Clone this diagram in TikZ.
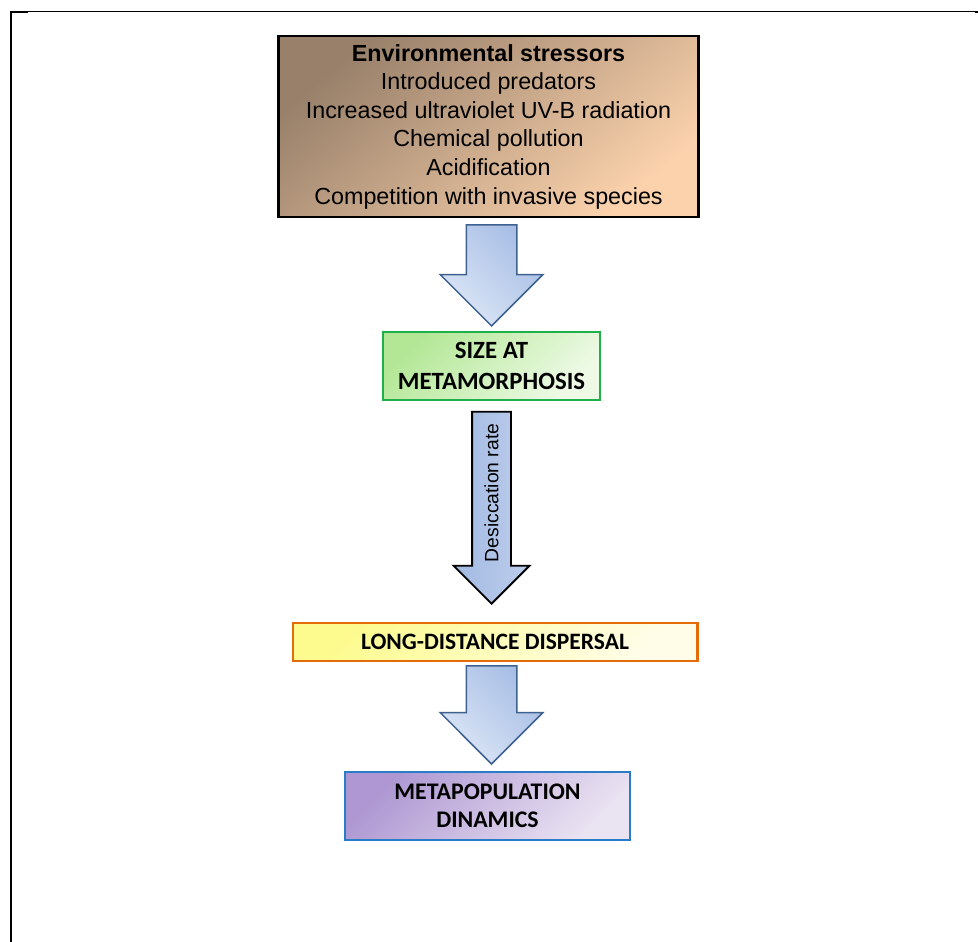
\documentclass[tikz,border=0pt]{standalone}
\usepackage{fontspec}
\setmainfont{Liberation Sans}
\newfontfamily\calfont{Carlito}
\usetikzlibrary{shapes.arrows}
\definecolor{envTL}{HTML}{98806A}
\definecolor{envBR}{HTML}{FBD2AC}
\definecolor{arrLine}{HTML}{3E618F}
\definecolor{arrDark}{HTML}{A6BDE5}
\definecolor{arrLight}{HTML}{DCE6F6}
\definecolor{drDark}{HTML}{A2B9E1}
\definecolor{drLight}{HTML}{BDCEED}
\definecolor{grnLine}{HTML}{20B04B}
\definecolor{grnTL}{HTML}{B3E796}
\definecolor{grnBR}{HTML}{EEFAE6}
\definecolor{orgLine}{HTML}{E36C09}
\definecolor{yelTL}{HTML}{FDFB8E}
\definecolor{yelBR}{HTML}{FFFDE8}
\definecolor{bluLine}{HTML}{2A7BC8}
\definecolor{purTL}{HTML}{AE97D2}
\definecolor{purBR}{HTML}{EAE3F2}
\begin{document}
\begin{tikzpicture}[x=1pt,y=-1pt,
  box/.style={draw, rectangle, inner sep=0pt, align=center},
  capsfont/.style={font=\calfont\bfseries\fontsize{23.5}{30}\selectfont},
  blockarrow/.style={single arrow, draw=arrLine, line width=1.5pt,
    inner sep=0pt, inner xsep=24.5pt, single arrow head extend=26pt,
    minimum width=101pt, shape border rotate=270,
    top color=arrDark, bottom color=arrLight, shading angle=-45}]
\useasboundingbox (0,0) rectangle (978,942);
% frame
\draw[line width=1.4pt] (10,11.7) -- (978,11.7);
\draw[line width=2pt] (11,10.9) -- (11,942);
\fill (10,11) rectangle (28,13.4);
\fill (975,11) rectangle (978,13.4);
% boxes
\node[box, line width=2.4pt, minimum width=420pt, minimum height=181pt,
  top color=envTL, bottom color=envBR, shading angle=40,
  font=\fontsize{23.3}{28.6}\selectfont] (env) at (488.5,126.5)
  {\textbf{Environmental stressors}\\Introduced predators\\Increased ultraviolet UV-B radiation\\Chemical pollution\\Acidification\\Competition with invasive species};
\node[box, draw=grnLine, line width=2pt, minimum width=217pt, minimum height=68pt,
  top color=grnTL, bottom color=grnBR, shading angle=45,
  font=\calfont\bfseries\fontsize{24.8}{31}\selectfont] (size) at (491.5,366)
  {SIZE AT\\METAMORPHOSIS};
\node[box, draw=orgLine, line width=2.4pt, minimum width=404.6pt, minimum height=38pt,
  top color=yelTL, bottom color=yelBR, shading angle=45,
  capsfont] (ldd) at (495,641.7) {LONG-DISTANCE DISPERSAL};
\node[box, draw=bluLine, line width=2pt, minimum width=285pt, minimum height=68pt,
  top color=purTL, bottom color=purBR, shading angle=45,
  font=\calfont\bfseries\fontsize{23.8}{28.5}\selectfont] (meta) at (487.5,806)
  {METAPOPULATION\\DINAMICS};
% arrows
\node[blockarrow, minimum height=101pt, anchor=tip] (a1) at (491.5,327) {};
\node[single arrow, draw=black, line width=1.8pt, rotate=90, shape border rotate=180,
  minimum height=192pt, minimum width=74pt, single arrow head extend=18.5pt,
  inner xsep=2pt, inner ysep=11.65pt, text height=13.7pt, text depth=0pt,
  left color=drDark, right color=drLight,
  font=\fontsize{19.3}{22}\selectfont, anchor=tip] (a2) at (491.5,605) {\hspace*{10pt}Desiccation rate};
\node[blockarrow, minimum height=98pt, anchor=tip] (a3) at (491.5,765) {};
\end{tikzpicture}
\end{document}
